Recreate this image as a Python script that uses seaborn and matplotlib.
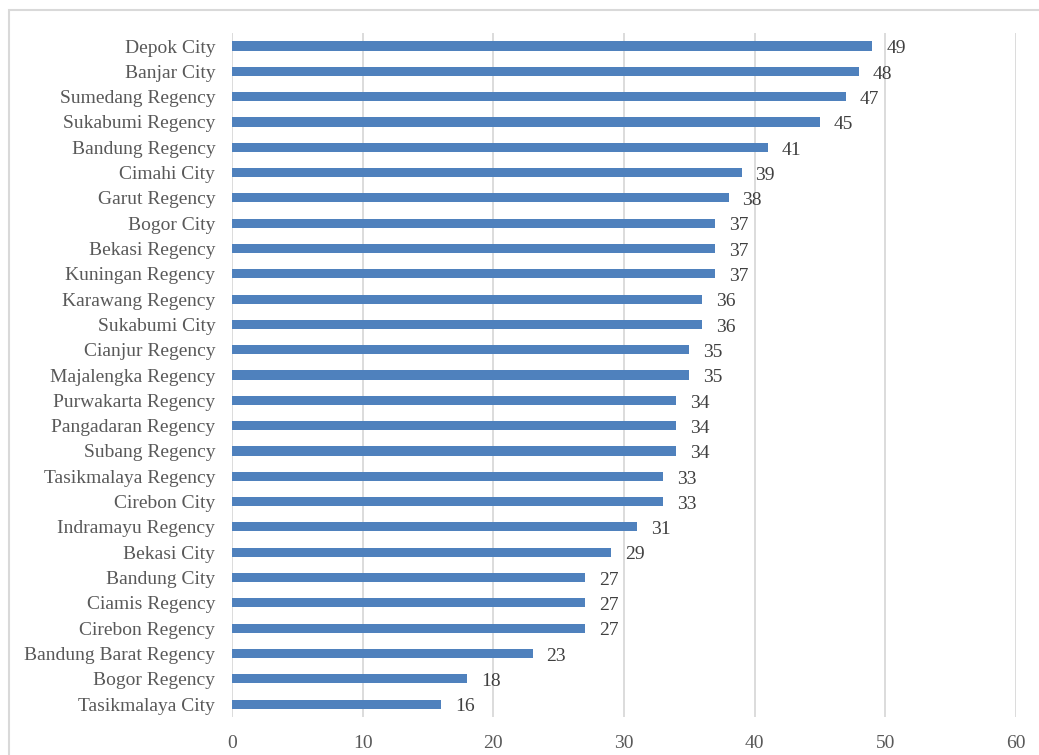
import matplotlib
matplotlib.use("Agg")
import matplotlib.pyplot as plt
from matplotlib.patches import Rectangle
import seaborn as sns
import pandas as pd

regions = [
    "Depok City", "Banjar City", "Sumedang Regency", "Sukabumi Regency",
    "Bandung Regency", "Cimahi City", "Garut Regency", "Bogor City",
    "Bekasi Regency", "Kuningan Regency", "Karawang Regency", "Sukabumi City",
    "Cianjur Regency", "Majalengka Regency", "Purwakarta Regency",
    "Pangadaran Regency", "Subang Regency", "Tasikmalaya Regency",
    "Cirebon City", "Indramayu Regency", "Bekasi City", "Bandung City",
    "Ciamis Regency", "Cirebon Regency", "Bandung Barat Regency",
    "Bogor Regency", "Tasikmalaya City",
]
scores = [49, 48, 47, 45, 41, 39, 38, 37, 37, 37, 36, 36, 35, 35, 34, 34,
          34, 33, 33, 31, 29, 27, 27, 27, 23, 18, 16]
x_ticks = [0, 10, 20, 30, 40, 50, 60]

df = pd.DataFrame({"region": regions, "score": scores})

sns.set_theme(style="white")
plt.rcParams["font.family"] = ["Liberation Serif", "DejaVu Serif"]

fig = plt.figure(figsize=(10.39, 7.55), dpi=100)
ax = fig.add_axes([0.2233, 0.0507, 0.7546, 0.9051])

bar_color = "#4F81BD"
sns.barplot(data=df, x="score", y="region", order=regions, orient="h",
            color=bar_color, saturation=1, width=0.36, ax=ax,
            edgecolor="none", linewidth=0)

ax.set_xlim(0, 60)
ax.set_ylim(len(regions) - 0.5, -0.5)
ax.set_xticks(x_ticks)
ax.set_xticklabels([str(t) for t in x_ticks])
ax.xaxis.grid(True, color="#D9D9D9", linewidth=1.3)
ax.set_axisbelow(True)
for s in ax.spines.values():
    s.set_visible(False)
ax.set_xlabel("")
ax.set_ylabel("")
ax.tick_params(axis="both", length=0, labelsize=14, labelcolor="#595959")
ax.tick_params(axis="y", pad=12)
ax.tick_params(axis="x", pad=13)

# value labels at the bar ends
for i, v in enumerate(scores):
    ax.annotate(str(v), xy=(v, i), xytext=(10, -2), textcoords="offset points",
                ha="left", va="center", fontsize=14, color="#404040")

# outer chart frame
fig.patches.append(Rectangle((9 / 1039, -0.1), 1.2, 1 - 10 / 755 + 0.1,
                             transform=fig.transFigure, fill=False,
                             edgecolor="#D9D9D9", linewidth=1.5))

fig.savefig("out.png", dpi=100, facecolor="white")
